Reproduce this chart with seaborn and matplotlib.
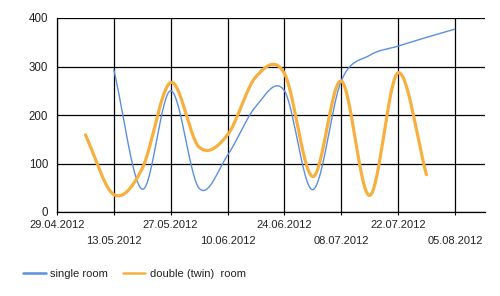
import numpy as np
import pandas as pd
import matplotlib
matplotlib.use("Agg")
import matplotlib.pyplot as plt
import matplotlib.dates as mdates
import seaborn as sns

# ---- data ----
single_dates = ["2012-05-13", "2012-05-20", "2012-05-27", "2012-06-03", "2012-06-10",
                "2012-06-17", "2012-06-24", "2012-07-01", "2012-07-08", "2012-07-15",
                "2012-07-22", "2012-07-29", "2012-08-05"]
single_values = [293, 47, 250, 49, 117, 218, 250, 46, 270, 323, 342, 360, 377]

double_dates = ["2012-05-06", "2012-05-13", "2012-05-20", "2012-05-27", "2012-06-03",
                "2012-06-10", "2012-06-17", "2012-06-24", "2012-07-01", "2012-07-08",
                "2012-07-15", "2012-07-22", "2012-07-29"]
double_values = [159, 36, 90, 267, 134, 159, 279, 286, 73, 270, 34, 287, 77]

tick_dates = ["2012-04-29", "2012-05-13", "2012-05-27", "2012-06-10",
              "2012-06-24", "2012-07-08", "2012-07-22", "2012-08-05"]
tick_labels = ["29.04.2012", "13.05.2012", "27.05.2012", "10.06.2012",
               "24.06.2012", "08.07.2012", "22.07.2012", "05.08.2012"]
y_ticks = [0, 100, 200, 300, 400]
series_names = ["single room", "double (twin)  room"]


def smooth(dates, values, n=30):
    """Catmull-Rom rendering of the line through the data points."""
    x = mdates.date2num(pd.to_datetime(dates))
    y = np.asarray(values, dtype=float)
    m = np.zeros_like(y)
    m[1:-1] = (y[2:] - y[:-2]) / 2.0
    m[0] = y[1] - y[0]
    m[-1] = y[-1] - y[-2]
    xs, ys = [], []
    for i in range(len(y) - 1):
        t = np.linspace(0, 1, n, endpoint=(i == len(y) - 2))
        h00 = 2 * t**3 - 3 * t**2 + 1
        h10 = t**3 - 2 * t**2 + t
        h01 = -2 * t**3 + 3 * t**2
        h11 = t**3 - t**2
        ys.append(h00 * y[i] + h10 * m[i] + h01 * y[i + 1] + h11 * m[i + 1])
        xs.append(x[i] + t * (x[i + 1] - x[i]))
    return pd.to_datetime(mdates.num2date(np.concatenate(xs))).tz_localize(None), np.concatenate(ys)


sns.set_style("white")
plt.rcParams["font.family"] = ["Liberation Sans", "DejaVu Sans"]

fig = plt.figure(figsize=(5.0, 2.96), dpi=100)
ax = fig.add_axes([57 / 500, 1 - 212 / 296, (485 - 57) / 500, (212 - 18) / 296])

blue = "#5b8fdb"
orange = "#f6b040"

sx, sy = smooth(single_dates, single_values)
dx, dy = smooth(double_dates, double_values)
sns.lineplot(x=sx, y=sy, ax=ax, color=blue, linewidth=1.0, estimator=None, sort=False,
             label=series_names[0], legend=False)
sns.lineplot(x=dx, y=dy, ax=ax, color=orange, linewidth=2.3, estimator=None, sort=False,
             label=series_names[1], legend=False)

tdates = pd.to_datetime(tick_dates)
ax.set_xlim(pd.Timestamp("2012-04-29"), pd.Timestamp("2012-08-12 10:00"))
ax.set_ylim(0, 400)
ax.set_yticks(y_ticks)
ax.set_yticklabels([str(v) for v in y_ticks])

major = mdates.date2num(tdates[0::2])
minor = mdates.date2num(tdates[1::2])
ax.set_xticks(major)
ax.set_xticklabels(tick_labels[0::2])
ax.set_xticks(minor, minor=True)
ax.set_xticklabels(tick_labels[1::2], minor=True)

ax.tick_params(axis="x", which="major", length=2.5, width=0.8, color="black",
               pad=3.6, labelsize=8, labelcolor="#222222", direction="out", bottom=True)
ax.tick_params(axis="x", which="minor", length=2.5, width=0.8, color="black",
               pad=14.8, labelsize=8, labelcolor="#222222", direction="out", bottom=True)
ax.tick_params(axis="y", length=0, pad=6.3, labelsize=8.3, labelcolor="#222222")

ax.set_xlabel("")
ax.set_ylabel("")
ax.grid(True, which="both", axis="x", color="black", linewidth=0.9)
ax.grid(True, which="major", axis="y", color="black", linewidth=0.9)
ax.set_axisbelow(True)
for side in ["top", "right"]:
    ax.spines[side].set_visible(False)
for side in ["left", "bottom"]:
    ax.spines[side].set_color("black")
    ax.spines[side].set_linewidth(0.9)

handles, labels = ax.get_legend_handles_labels()
leg = fig.legend(handles, labels, loc="center left", bbox_to_anchor=(23 / 500, 1 - 274 / 296),
                 frameon=False, ncol=2, fontsize=8, handlelength=2.05, handletextpad=0.4,
                 columnspacing=1.3, borderpad=0, borderaxespad=0)
for h in leg.get_lines():
    h.set_linewidth(1.8)
for t in leg.get_texts():
    t.set_color("#222222")

fig.savefig("out.png", dpi=100)
